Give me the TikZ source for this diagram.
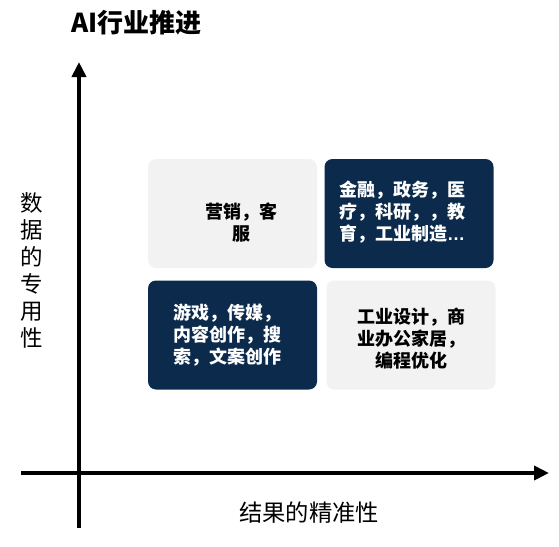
\documentclass[tikz,border=0pt]{standalone}
\usepackage{fontspec}
\setmainfont{Noto Sans CJK SC}
\newfontfamily\latinfont{Liberation Sans}
\usetikzlibrary{arrows.meta}
\definecolor{navy}{HTML}{0B2A4C}
\definecolor{lightgray}{HTML}{F2F2F2}
\tikzset{
  axisline/.style={line width=4.6pt,-{Triangle[length=15pt,width=14pt]}},
  quadbox/.style={rounded corners=8pt,minimum width=169pt,minimum height=109pt,inner sep=0pt,draw=none},
  darkbox/.style={quadbox,fill=navy},
  lightbox/.style={quadbox,fill=lightgray},
  boxtext/.style={font=\bfseries\fontsize{18pt}{21.7pt}\selectfont,inner sep=0pt},
  axislabel/.style={font=\fontsize{22.5pt}{27pt}\selectfont,inner sep=0pt}
}
\begin{document}
\begin{tikzpicture}[x=1pt,y=-1pt]
\useasboundingbox (0,0) rectangle (559,546);
% boxes
\node[lightbox] (tl) at (232.5,213.5) {};
\node[darkbox] (tr) at (409,213.5) {};
\node[darkbox] (bl) at (232.5,335) {};
\node[lightbox] (br) at (411,335) {};
% texts
\node[boxtext,align=center,text=black] (tltext) at (241,222.5) {营销，客\\服};
\node[boxtext,align=left,text=white,anchor=west] (trtext) at (339,212) {金融，政务，医\\疗，科研，，教\\育，工业制造{\latinfont …}};
\node[boxtext,align=left,text=white,anchor=west] (bltext) at (173,335) {游戏，传媒，\\内容创作，搜\\索，文案创作};
\node[boxtext,align=center,text=black] (brtext) at (411,338.5) {工业设计，商\\业办公家居，\\编程优化};
% axes
\coordinate (xstart) at (21,473);
\coordinate (xend) at (549,473);
\coordinate (ystart) at (79,528);
\coordinate (yend) at (79,62);
\draw[axisline] (xstart) -- (xend);
\draw[axisline] (ystart) -- (yend);
% labels
\node[font=\bfseries\fontsize{26pt}{30pt}\selectfont,anchor=west,inner sep=0pt] (title) at (71,23) {AI行业推进};
\node[axislabel,align=center] (ylabel) at (32,270) {数\\据\\的\\专\\用\\性};
\node[axislabel,font=\fontsize{23.3pt}{27pt}\selectfont] (xlabel) at (309,513) {结果的精准性};
\end{tikzpicture}
\end{document}
